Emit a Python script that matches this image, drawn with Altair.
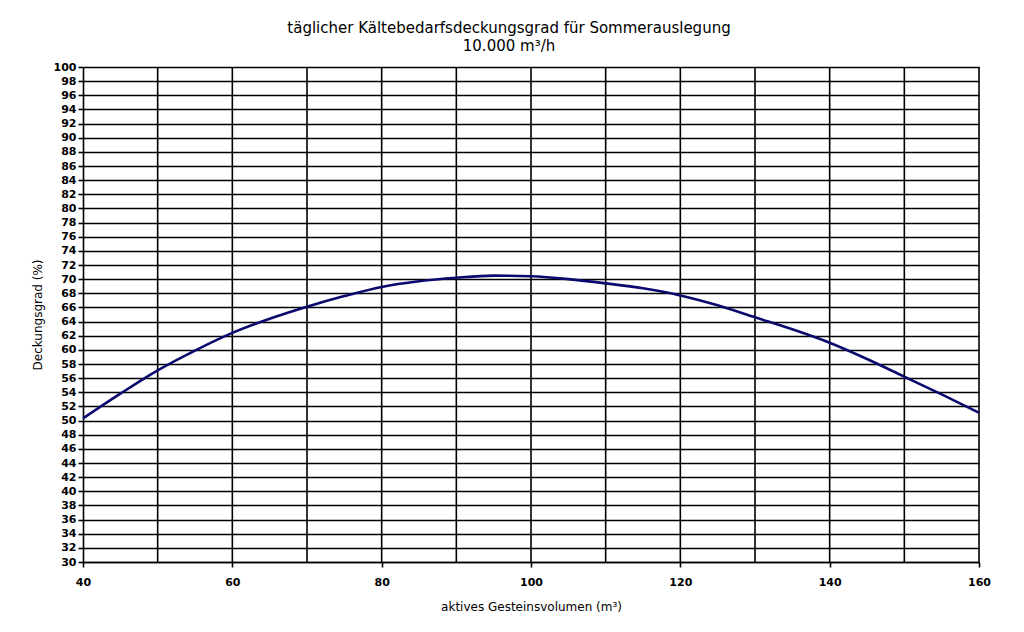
import altair as alt
import pandas as pd

# Data
volume = [40, 45, 50, 55, 60, 65, 70, 75, 80, 85, 90, 95, 100, 105, 110, 115, 120, 125, 130, 135, 140, 145, 150, 155, 160]
coverage = [50.3, 53.8, 57.1, 59.9, 62.4, 64.4, 66.1, 67.6, 68.9, 69.7, 70.2, 70.5, 70.4, 70.0, 69.4, 68.7, 67.7, 66.3, 64.6, 62.9, 61.0, 58.7, 56.2, 53.7, 51.1]

x_grid = [50, 60, 70, 80, 90, 100, 110, 120, 130, 140, 150, 160]
x_ticks = [40, 60, 80, 100, 120, 140, 160]
y_ticks = list(range(30, 101, 2))

title_lines = ["täglicher Kältebedarfsdeckungsgrad für Sommerauslegung", "10.000 m³/h"]
x_title = "aktives Gesteinsvolumen (m³)"
y_title = "Deckungsgrad (%)"

df = pd.DataFrame({"volume": volume, "coverage": coverage})
grid_df = pd.DataFrame({"gx": x_grid})

FONT = "DejaVu Sans"

x_scale = alt.Scale(domain=[40, 160], nice=False, zero=False)
y_scale = alt.Scale(domain=[30, 100], nice=False, zero=False)

x_axis = alt.Axis(values=x_ticks, grid=False, tickSize=5, tickColor="black",
                  domainColor="black", domainWidth=1.6, tickWidth=1.6,
                  labelPadding=9, titlePadding=14, format="d", labelFlush=False)
y_axis = alt.Axis(values=y_ticks, grid=True, gridColor="black", gridWidth=1.6,
                  gridOpacity=1, tickSize=5, tickColor="black", tickWidth=1.6,
                  domainColor="black", domainWidth=1.6,
                  labelPadding=2, titlePadding=9, format="d")

vgrid = alt.Chart(grid_df).mark_rule(color="black", strokeWidth=1.6).encode(
    x=alt.X("gx:Q", scale=x_scale, title=x_title, axis=x_axis),
)

line = alt.Chart(df).mark_line(color="#0a0a6e", strokeWidth=2.6, interpolate="monotone").encode(
    x=alt.X("volume:Q", scale=x_scale, title=x_title, axis=x_axis),
    y=alt.Y("coverage:Q", scale=y_scale, title=y_title, axis=y_axis),
)

chart = alt.layer(vgrid, line).properties(
    width=896,
    height=495,
    title=alt.TitleParams(text=title_lines, anchor="middle", dx=-22, offset=7,
                          font=FONT, fontSize=15, fontWeight="normal", color="black",
                          lineHeight=18),
    autosize=alt.AutoSizeParams(type="none"),
    padding={"left": 75, "top": 59, "right": 30, "bottom": 50},
).configure_view(stroke=None).configure_axis(
    labelFont=FONT, labelFontSize=11, labelColor="black", labelFontWeight="bold",
    titleFont=FONT, titleFontSize=12, titleColor="black", titleFontWeight="normal",
)

chart.save("out.html", embed_options={"renderer": "svg", "actions": False})
